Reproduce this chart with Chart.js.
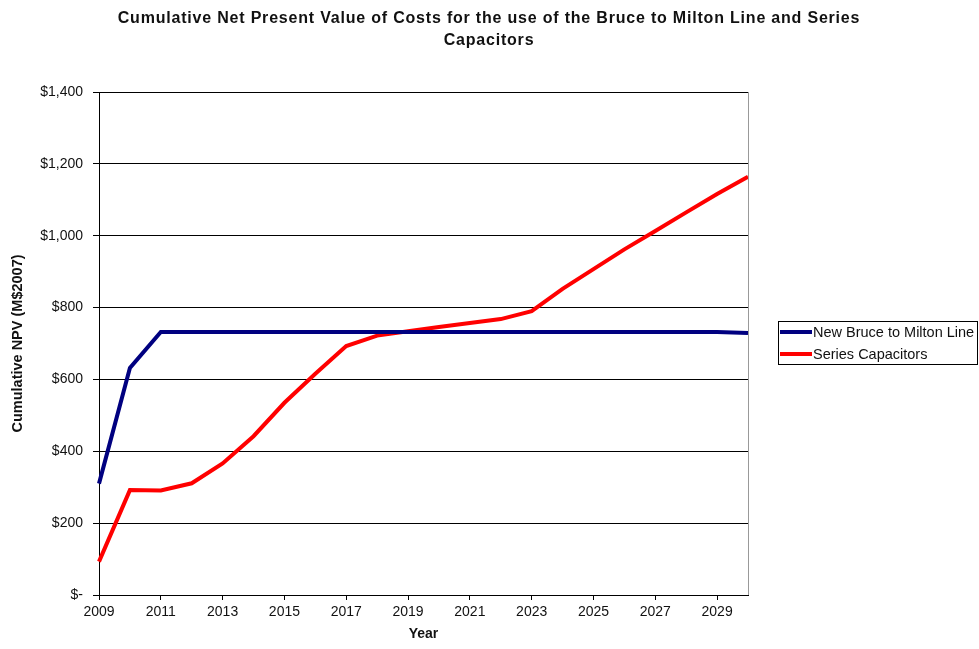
<!DOCTYPE html>
<html>
<head>
<meta charset="utf-8">
<script src="https://cdn.jsdelivr.net/npm/chart.js@4/dist/chart.umd.min.js"></script>
<style>
  html, body { margin: 0; padding: 0; background: #fff; }
  #wrap { width: 979px; height: 649px; position: relative; }
</style>
</head>
<body>
<div id="wrap"><canvas id="chart" width="979" height="649"></canvas></div>
<script>
// chart data
const years = [2009, 2010, 2011, 2012, 2013, 2014, 2015, 2016, 2017, 2018, 2019,
  2020, 2021, 2022, 2023, 2024, 2025, 2026, 2027, 2028, 2029, 2030];
const newLine = [310, 632, 732, 732, 732, 732, 732, 732, 732, 732, 732,
  732, 732, 732, 732, 732, 732, 732, 732, 732, 732, 729];
const seriesCaps = [93, 292, 291, 311, 366, 442, 535, 616, 693, 722, 734,
  746, 757, 768, 790, 852, 907, 962, 1013, 1065, 1116, 1164];
const yTicks = [0, 200, 400, 600, 800, 1000, 1200, 1400];

const titleLines = ['Cumulative Net Present Value of Costs for the use of the Bruce to Milton Line and Series',
  'Capacitors'];
const FONT = '"Liberation Sans", Arial, sans-serif';
const TEXT = '#111';

// title, axis titles and the boxed legend
const decorations = {
  id: 'decorations',
  afterDraw(chart) {
    const ctx = chart.ctx;
    const area = chart.chartArea;
    ctx.save();
    ctx.fillStyle = TEXT;
    ctx.textAlign = 'center';
    ctx.textBaseline = 'middle';
    ctx.font = 'bold 16px ' + FONT;
    ctx.letterSpacing = '0.8px';
    ctx.fillText(titleLines[0], 489, 19);
    ctx.fillText(titleLines[1], 489, 41);
    ctx.letterSpacing = '0px';

    ctx.font = 'bold 14px ' + FONT;
    ctx.fillText('Year', (area.left + area.right) / 2, 634);
    ctx.save();
    ctx.translate(18, (area.top + area.bottom) / 2);
    ctx.rotate(-Math.PI / 2);
    ctx.font = 'bold 14.5px ' + FONT;
    ctx.fillText('Cumulative NPV (M$2007)', 0, 0);
    ctx.restore();

    // right border of plot area
    ctx.strokeStyle = '#999';
    ctx.lineWidth = 1;
    ctx.beginPath();
    ctx.moveTo(area.right + 0.5, area.top);
    ctx.lineTo(area.right + 0.5, area.bottom);
    ctx.stroke();

    // legend
    const lx = 778, ly = 321, lw = 199, lh = 43;
    ctx.strokeStyle = '#000';
    ctx.strokeRect(lx + 0.5, ly + 0.5, lw, lh);
    ctx.textAlign = 'left';
    ctx.font = '14.5px ' + FONT;
    chart.data.datasets.forEach((ds, i) => {
      const y = ly + 11 + i * 22;
      ctx.strokeStyle = ds.borderColor;
      ctx.lineWidth = 4;
      ctx.beginPath();
      ctx.moveTo(lx + 2, y);
      ctx.lineTo(lx + 34, y);
      ctx.stroke();
      ctx.fillStyle = TEXT;
      ctx.fillText(ds.label, lx + 35, y + 1);
    });
    ctx.restore();
  }
};

new Chart(document.getElementById('chart'), {
  type: 'line',
  data: {
    labels: years,
    datasets: [
      {
        label: 'New Bruce to Milton Line',
        data: newLine,
        borderColor: '#000080',
        borderWidth: 4,
        pointRadius: 0,
        tension: 0,
        fill: false
      },
      {
        label: 'Series Capacitors',
        data: seriesCaps,
        borderColor: '#ff0000',
        borderWidth: 4,
        pointRadius: 0,
        tension: 0,
        fill: false
      }
    ]
  },
  options: {
    responsive: false,
    animation: false,
    layout: { padding: { left: 0, right: 231, top: 92, bottom: 0 } },
    plugins: {
      legend: { display: false },
      title: { display: false },
      tooltip: { enabled: false }
    },
    scales: {
      x: {
        type: 'category',
        offset: false,
        afterFit: s => { s.height = 54; },
        border: { color: '#000', width: 1 },
        grid: { drawOnChartArea: false, drawTicks: true, tickLength: 5, color: '#000' },
        ticks: {
          autoSkip: false,
          maxRotation: 0,
          color: TEXT,
          font: { family: FONT, size: 14 },
          padding: 4,
          callback: function (v, i) {
            const yr = years[i];
            return (yr - 2009) % 2 === 0 ? String(yr) : null;
          }
        }
      },
      y: {
        min: 0,
        max: 1400,
        afterFit: s => { s.width = 99; },
        afterBuildTicks: s => { s.ticks = yTicks.map(v => ({ value: v })); },
        border: { color: '#000', width: 1 },
        grid: { color: '#000', lineWidth: 1, tickLength: 6 },
        ticks: {
          color: TEXT,
          font: { family: FONT, size: 14 },
          padding: 10,
          callback: v => v === 0 ? '$-' : '$' + v.toLocaleString('en-US')
        }
      }
    }
  },
  plugins: [decorations]
});
</script>
</body>
</html>
